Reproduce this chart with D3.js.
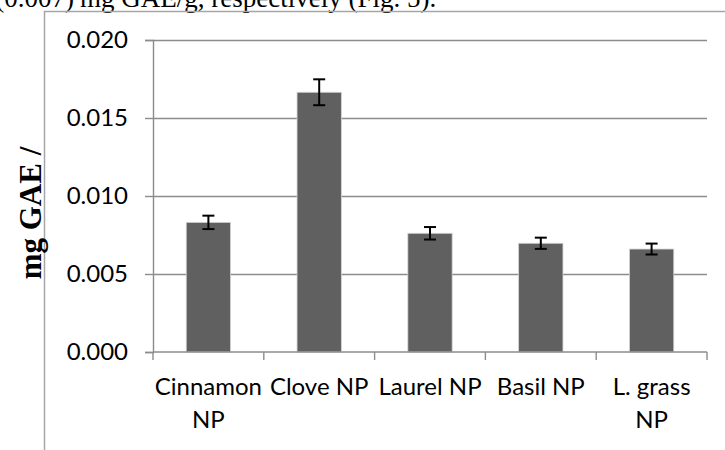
<!DOCTYPE html>
<html>
<head>
<meta charset="utf-8">
<script src="https://cdn.jsdelivr.net/npm/d3@7"></script>
<style>
  body { margin: 0; background: #fff; }
  svg { display: block; }
  .tick text { font-family: Lato, "Open Sans", sans-serif; }
</style>
</head>
<body>
<div id="chart"></div>
<script>
// values
var categories = ['Cinnamon NP', 'Clove NP', 'Laurel NP', 'Basil NP', 'L. grass NP'];
var catLines = [['Cinnamon', 'NP'], ['Clove NP'], ['Laurel NP'], ['Basil NP'], ['L. grass', 'NP']];
var gaeValues = [0.00831, 0.01665, 0.00761, 0.00697, 0.00660];
var gaeErrors = [0.00043, 0.00083, 0.00040, 0.00036, 0.00035];
var yTicks = [0, 0.005, 0.010, 0.015, 0.020];

var W = 725, H = 450;
var plot = { left: 153, right: 707, top: 40, bottom: 352 };
var labelFont = 'Lato, "Open Sans", sans-serif';
var serifFont = '"Liberation Serif", "Times New Roman", serif';
var lineColor = '#8c8c8c';

var svg = d3.select('#chart').append('svg')
    .attr('width', W)
    .attr('height', H);

// caption text left over from the page above the figure
svg.append('text')
    .attr('x', 74).attr('y', 7)
    .attr('text-anchor', 'end')
    .style('font-family', serifFont)
    .style('font-size', '27px')
    .text('(0.007)');
svg.append('text')
    .attr('x', 80).attr('y', 7)
    .style('font-family', serifFont)
    .style('font-size', '27px')
    .text('mg GAE/g, respectively (Fig. 5).');

// outer frame of the figure box
svg.append('path')
    .attr('d', 'M44.5,' + H + 'V11.5H' + W)
    .attr('fill', 'none')
    .attr('stroke', '#a6a6a6')
    .attr('stroke-width', 1.5);

var x = d3.scaleBand()
    .domain(categories)
    .range([plot.left, plot.right])
    .paddingInner(0.6)
    .paddingOuter(0.3);

var y = d3.scaleLinear()
    .domain([0, 0.02])
    .range([plot.bottom, plot.top]);

// gridlines
svg.append('g')
    .attr('transform', 'translate(' + plot.left + ',0)')
    .call(d3.axisLeft(y).tickValues(yTicks.slice(1)).tickSize(-(plot.right - plot.left)).tickFormat(''))
    .call(function(g) { g.select('.domain').remove(); })
    .selectAll('line')
        .attr('stroke', lineColor)
        .attr('stroke-width', 1.4);

// y axis
var yAxis = svg.append('g')
    .attr('transform', 'translate(' + plot.left + ',0)')
    .call(d3.axisLeft(y).tickValues(yTicks).tickSize(8).tickPadding(17).tickFormat(d3.format('.3f')));
yAxis.select('.domain').attr('stroke', lineColor).attr('stroke-width', 1.4);
yAxis.selectAll('.tick line').attr('stroke', lineColor).attr('stroke-width', 1.4);
yAxis.selectAll('.tick text')
    .style('font-size', '24px')
    .attr('fill', '#000');

// bars
svg.append('g').selectAll('rect')
    .data(categories)
    .enter()
    .append('rect')
    .attr('x', function(d) { return x(d); })
    .attr('y', function(d, i) { return y(gaeValues[i]); })
    .attr('width', x.bandwidth())
    .attr('height', function(d, i) { return y(0) - y(gaeValues[i]); })
    .attr('fill', '#606060')
    .attr('stroke', '#d4d4d4')
    .attr('stroke-width', 0.8);

// x axis line + boundary ticks
var bounds = d3.range(categories.length + 1).map(function(i) { return plot.left + i * x.step(); });
svg.append('line')
    .attr('x1', plot.left).attr('x2', plot.right)
    .attr('y1', y(0)).attr('y2', y(0))
    .attr('stroke', lineColor).attr('stroke-width', 1.4);
svg.append('g').selectAll('line')
    .data(bounds)
    .enter()
    .append('line')
    .attr('x1', function(d) { return d; }).attr('x2', function(d) { return d; })
    .attr('y1', y(0)).attr('y2', y(0) + 8)
    .attr('stroke', lineColor).attr('stroke-width', 1.4);

// category labels (wrapped like the original)
var labels = svg.append('g').selectAll('text')
    .data(categories)
    .enter()
    .append('text')
    .attr('text-anchor', 'middle')
    .style('font-family', labelFont)
    .style('font-size', '24px')
    .attr('fill', '#000');
labels.each(function(d, i) {
    var cx = x(d) + x.bandwidth() / 2;
    d3.select(this).selectAll('tspan')
        .data(catLines[i])
        .enter()
        .append('tspan')
        .attr('x', cx)
        .attr('y', function(t, j) { return 395 + j * 33; })
        .text(function(t) { return t; });
});

// error bars
var err = svg.append('g')
    .attr('stroke', '#000')
    .attr('stroke-width', 2);
categories.forEach(function(d, i) {
    var cx = x(d) + x.bandwidth() / 2;
    var hi = y(gaeValues[i] + gaeErrors[i]), lo = y(gaeValues[i] - gaeErrors[i]);
    err.append('line').attr('x1', cx).attr('x2', cx).attr('y1', hi).attr('y2', lo);
    err.append('line').attr('x1', cx - 6).attr('x2', cx + 6).attr('y1', hi).attr('y2', hi);
    err.append('line').attr('x1', cx - 6).attr('x2', cx + 6).attr('y1', lo).attr('y2', lo);
});

// y axis title (cut off in the original)
svg.append('text')
    .attr('transform', 'translate(41,213) rotate(-90)')
    .attr('text-anchor', 'middle')
    .style('font-family', serifFont)
    .style('font-size', '31px')
    .style('font-weight', 'bold')
    .text('mg GAE /');
</script>
</body>
</html>
